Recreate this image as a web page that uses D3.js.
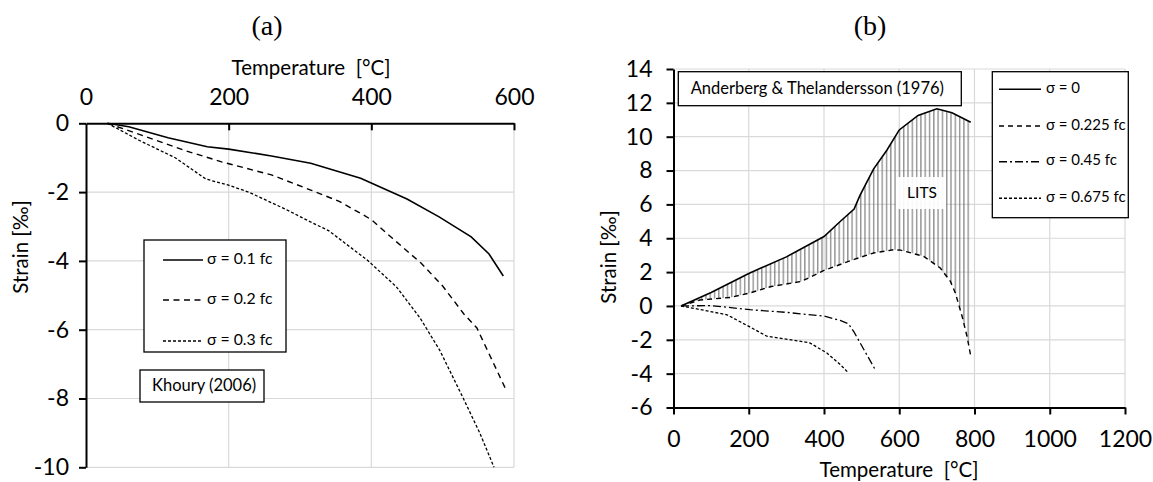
<!DOCTYPE html>
<html>
<head>
<meta charset="utf-8">
<script src="https://cdn.jsdelivr.net/npm/d3@7"></script>
<style>
  html, body { margin: 0; padding: 0; background: #fff; }
  svg { display: block; }
  .tick text { font-family: Lato, "Open Sans", sans-serif; font-size: 23px; fill: #000; }
</style>
</head>
<body>
<svg id="chart" width="1153" height="482"></svg>
<script>
// ---- Panel (a): Khoury (2006) ----
const ticksA_x = [0, 200, 400, 600];
const ticksA_y = [0, -2, -4, -6, -8, -10];
const labelsA = ["σ = 0.1 fc", "σ = 0.2 fc", "σ = 0.3 fc"];

const tempA1   = [30, 60, 115, 170, 200, 260, 315, 385, 410, 450, 495, 540, 565, 585];
const strainA1 = [0, -0.1, -0.42, -0.68, -0.75, -0.95, -1.16, -1.6, -1.83, -2.2, -2.72, -3.3, -3.8, -4.44];

const tempA2   = [30, 80, 140, 190, 260, 315, 355, 385, 400, 430, 470, 500, 530, 548, 590];
const strainA2 = [0, -0.36, -0.8, -1.12, -1.5, -1.94, -2.27, -2.62, -2.8, -3.35, -4.07, -4.73, -5.55, -5.95, -7.8];

const tempA3   = [30, 75, 125, 168, 200, 228, 280, 314, 340, 394, 435, 468, 496, 529, 552, 572];
const strainA3 = [0, -0.5, -1.0, -1.62, -1.8, -2.0, -2.5, -2.86, -3.12, -3.97, -4.75, -5.65, -6.6, -8.0, -9.0, -10];

// ---- Panel (b): Anderberg & Thelandersson (1976) ----
const ticksB_x = [0, 200, 400, 600, 800, 1000, 1200];
const ticksB_y = [-6, -4, -2, 0, 2, 4, 6, 8, 10, 12, 14];
const labelsB = ["σ = 0", "σ = 0.225 fc", "σ = 0.45 fc", "σ = 0.675 fc"];

const tempB0   = [20, 100, 200, 300, 400, 443, 480, 495, 510, 532, 567, 600, 650, 700, 740, 790];
const strainB0 = [0, 0.8, 1.92, 2.9, 4.1, 4.99, 5.72, 6.5, 7.15, 8.1, 9.2, 10.4, 11.26, 11.65, 11.42, 10.85];

const tempB1   = [20, 70, 150, 203, 260, 340, 400, 443, 480, 532, 585, 603, 665, 709, 736, 749, 767, 780, 791];
const strainB1 = [0, 0.35, 0.5, 0.77, 1.15, 1.45, 2.1, 2.45, 2.75, 3.13, 3.32, 3.3, 2.93, 2.24, 1.45, 0.77, -0.61, -1.79, -3.07];

const tempB2   = [20, 100, 203, 300, 400, 443, 465, 480, 537];
const strainB2 = [0, 0.02, -0.22, -0.38, -0.6, -0.85, -1.05, -1.55, -3.8];

const tempB3   = [20, 80, 142, 203, 248, 309, 362, 407, 443, 465];
const strainB3 = [0, -0.25, -0.52, -1.24, -1.79, -1.99, -2.18, -2.77, -3.46, -3.95];

const FONT = "Lato, 'Open Sans', sans-serif";
const SERIF = "'Liberation Serif', 'Times New Roman', serif";
const plainNumber = d => String(d);   // hyphen minus, no thousands separator
const svg = d3.select("#chart");

// hatch pattern for the LITS band
const defs = svg.append("defs");
defs.append("pattern")
  .attr("id", "vhatch")
  .attr("patternUnits", "userSpaceOnUse")
  .attr("width", 4.3).attr("height", 10)
  .append("line")
  .attr("x1", 0.75).attr("x2", 0.75).attr("y1", 0).attr("y2", 10)
  .attr("stroke", "#666").attr("stroke-width", 1);

function drawLine(g, xs, ys, xScale, yScale, dash, width) {
  const line = d3.line().x(d => xScale(d[0])).y(d => yScale(d[1]));
  g.append("path")
    .datum(d3.zip(xs, ys))
    .attr("d", line)
    .attr("fill", "none")
    .attr("stroke", "#000")
    .attr("stroke-width", width)
    .attr("stroke-dasharray", dash);
}

function styleAxis(g) {
  g.select(".domain").attr("stroke", "#000").attr("stroke-width", 2);
  g.selectAll(".tick line").attr("stroke", "#000").attr("stroke-width", 2);
}

// ================= Panel (a) =================
const xA = d3.scaleLinear().domain([0, 600]).range([86, 514]);
const yA = d3.scaleLinear().domain([-10, 0]).range([467.3, 123.3]);
const gA = svg.append("g");

// grid
gA.append("g").selectAll("line").data(ticksA_x.filter(d => d > 0)).join("line")
  .attr("x1", d => xA(d)).attr("x2", d => xA(d))
  .attr("y1", yA(0)).attr("y2", yA(-10))
  .attr("stroke", "#d9d9d9").attr("stroke-width", 1.2);
gA.append("g").selectAll("line").data(ticksA_y.filter(d => d < 0)).join("line")
  .attr("x1", xA(0)).attr("x2", xA(600))
  .attr("y1", d => yA(d)).attr("y2", d => yA(d))
  .attr("stroke", "#d9d9d9").attr("stroke-width", 1.2);

// series
drawLine(gA, tempA1, strainA1, xA, yA, null, 1.6);
drawLine(gA, tempA2, strainA2, xA, yA, "6,4.5", 1.4);
drawLine(gA, tempA3, strainA3, xA, yA, "3,2", 1.3);

// axes
const axA_x = gA.append("g").attr("transform", `translate(0,${yA(0)})`)
  .call(d3.axisTop(xA).tickValues(ticksA_x).tickFormat(plainNumber)
    .tickSizeInner(-7).tickSizeOuter(0).tickPadding(18));
const axA_y = gA.append("g").attr("transform", `translate(${xA(0)},0)`)
  .call(d3.axisLeft(yA).tickValues(ticksA_y).tickFormat(plainNumber)
    .tickSizeInner(7).tickSizeOuter(0).tickPadding(10));
styleAxis(axA_x); styleAxis(axA_y);
axA_x.selectAll(".tick").filter(d => d === 0).select("line").remove();

// titles
svg.append("text").attr("x", 267).attr("y", 35).attr("text-anchor", "middle")
  .attr("font-family", SERIF).attr("font-size", 28).text("(a)");
svg.append("text").attr("x", 311).attr("y", 75).attr("text-anchor", "middle")
  .attr("font-family", FONT).attr("font-size", 20.5).attr("xml:space", "preserve").text("Temperature  [°C]");
svg.append("text").attr("transform", "translate(23,247) rotate(-90)").attr("text-anchor", "middle")
  .attr("dominant-baseline", "middle")
  .attr("font-family", FONT).attr("font-size", 20.5).text("Strain [‰]");

// legend (a)
const legA = gA.append("g");
legA.append("rect").attr("x", 144).attr("y", 240).attr("width", 142).attr("height", 112)
  .attr("fill", "#fff").attr("stroke", "#000").attr("stroke-width", 1.3);
const dashA = [null, "6,4.5", "3,2"];
const legAy = [260, 300, 341];
labelsA.forEach((t, i) => {
  legA.append("line").attr("x1", 163).attr("x2", 203).attr("y1", legAy[i]).attr("y2", legAy[i])
    .attr("stroke", "#000").attr("stroke-width", 1.4).attr("stroke-dasharray", dashA[i]);
  legA.append("text").attr("x", 207).attr("y", legAy[i]).attr("dominant-baseline", "middle")
    .attr("font-family", FONT).attr("font-size", 15.8).text(t);
});
gA.append("rect").attr("x", 140).attr("y", 370).attr("width", 124).attr("height", 32)
  .attr("fill", "#fff").attr("stroke", "#000").attr("stroke-width", 1.3);
gA.append("text").attr("x", 152).attr("y", 387).attr("dominant-baseline", "middle")
  .attr("font-family", FONT).attr("font-size", 16.5).text("Khoury (2006)");

// ================= Panel (b) =================
const xB = d3.scaleLinear().domain([0, 1200]).range([673.5, 1125]);
const yB = d3.scaleLinear().domain([-6, 14]).range([407.5, 69]);
const gB = svg.append("g");

gB.append("g").selectAll("line").data(ticksB_x.filter(d => d > 0)).join("line")
  .attr("x1", d => xB(d)).attr("x2", d => xB(d))
  .attr("y1", yB(14)).attr("y2", yB(-6))
  .attr("stroke", "#d9d9d9").attr("stroke-width", 1.2);
gB.append("g").selectAll("line").data(ticksB_y.filter(d => d > -6)).join("line")
  .attr("x1", xB(0)).attr("x2", xB(1200))
  .attr("y1", d => yB(d)).attr("y2", d => yB(d))
  .attr("stroke", "#d9d9d9").attr("stroke-width", 1.2);

// LITS band between σ = 0 and σ = 0.225 fc
function interp(xs, ys, t) {
  if (t <= xs[0]) return ys[0];
  if (t >= xs[xs.length - 1]) return ys[ys.length - 1];
  const i = d3.bisectRight(xs, t);
  const f = (t - xs[i - 1]) / (xs[i] - xs[i - 1]);
  return ys[i - 1] + f * (ys[i] - ys[i - 1]);
}
const bandT = Array.from(new Set([...tempB0, ...tempB1]))
  .filter(t => t >= 20 && t <= 790).sort((a, b) => a - b);
const band = bandT.map(t => [t, interp(tempB0, strainB0, t), interp(tempB1, strainB1, t)]);
gB.append("path").datum(band)
  .attr("d", d3.area().x(d => xB(d[0])).y0(d => yB(d[2])).y1(d => yB(d[1])))
  .attr("fill", "url(#vhatch)").attr("stroke", "none");

drawLine(gB, tempB0, strainB0, xB, yB, null, 1.6);
drawLine(gB, tempB1, strainB1, xB, yB, "5,4", 1.4);
drawLine(gB, tempB2, strainB2, xB, yB, "8,3,2,3", 1.3);
drawLine(gB, tempB3, strainB3, xB, yB, "3,2", 1.3);

// LITS label
gB.append("rect").attr("x", 896).attr("y", 177).attr("width", 50).attr("height", 32)
  .attr("fill", "#fff").attr("fill-opacity", 0.93);
gB.append("text").attr("x", 922).attr("y", 194).attr("text-anchor", "middle")
  .attr("dominant-baseline", "middle").attr("font-family", FONT).attr("font-size", 15.5).text("LITS");

const axB_x = gB.append("g").attr("transform", `translate(0,${yB(-6)})`)
  .call(d3.axisBottom(xB).tickValues(ticksB_x).tickFormat(plainNumber)
    .tickSizeInner(7).tickSizeOuter(0).tickPadding(16));
const axB_y = gB.append("g").attr("transform", `translate(${xB(0)},0)`)
  .call(d3.axisLeft(yB).tickValues(ticksB_y).tickFormat(plainNumber)
    .tickSizeInner(7).tickSizeOuter(0).tickPadding(14));
styleAxis(axB_x); styleAxis(axB_y);

svg.append("text").attr("x", 870).attr("y", 35).attr("text-anchor", "middle")
  .attr("font-family", SERIF).attr("font-size", 28).text("(b)");
svg.append("text").attr("x", 899).attr("y", 477).attr("text-anchor", "middle")
  .attr("font-family", FONT).attr("font-size", 20.5).attr("xml:space", "preserve").text("Temperature  [°C]");
svg.append("text").attr("transform", "translate(611,257) rotate(-90)").attr("text-anchor", "middle")
  .attr("dominant-baseline", "middle")
  .attr("font-family", FONT).attr("font-size", 20.5).text("Strain [‰]");

// legend (b)
const legB = gB.append("g");
legB.append("rect").attr("x", 992.3).attr("y", 71.7).attr("width", 136).attr("height", 146)
  .attr("fill", "#fff").attr("stroke", "#000").attr("stroke-width", 1.3);
const dashB = [null, "5,4", "8,3,2,3", "3,2"];
const legBy = [89.3, 126, 161.7, 198.3];
labelsB.forEach((t, i) => {
  legB.append("line").attr("x1", 999).attr("x2", 1041).attr("y1", legBy[i]).attr("y2", legBy[i])
    .attr("stroke", "#000").attr("stroke-width", 1.4).attr("stroke-dasharray", dashB[i]);
  legB.append("text").attr("x", 1046).attr("y", legBy[i]).attr("dominant-baseline", "middle")
    .attr("font-family", FONT).attr("font-size", 15).text(t);
});
gB.append("rect").attr("x", 678.3).attr("y", 71.7).attr("width", 283).attr("height", 34)
  .attr("fill", "#fff").attr("stroke", "#000").attr("stroke-width", 1.3);
gB.append("text").attr("x", 690.7).attr("y", 89.5).attr("dominant-baseline", "middle")
  .attr("font-family", FONT).attr("font-size", 16.5).text("Anderberg & Thelandersson (1976)");
</script>
</body>
</html>
